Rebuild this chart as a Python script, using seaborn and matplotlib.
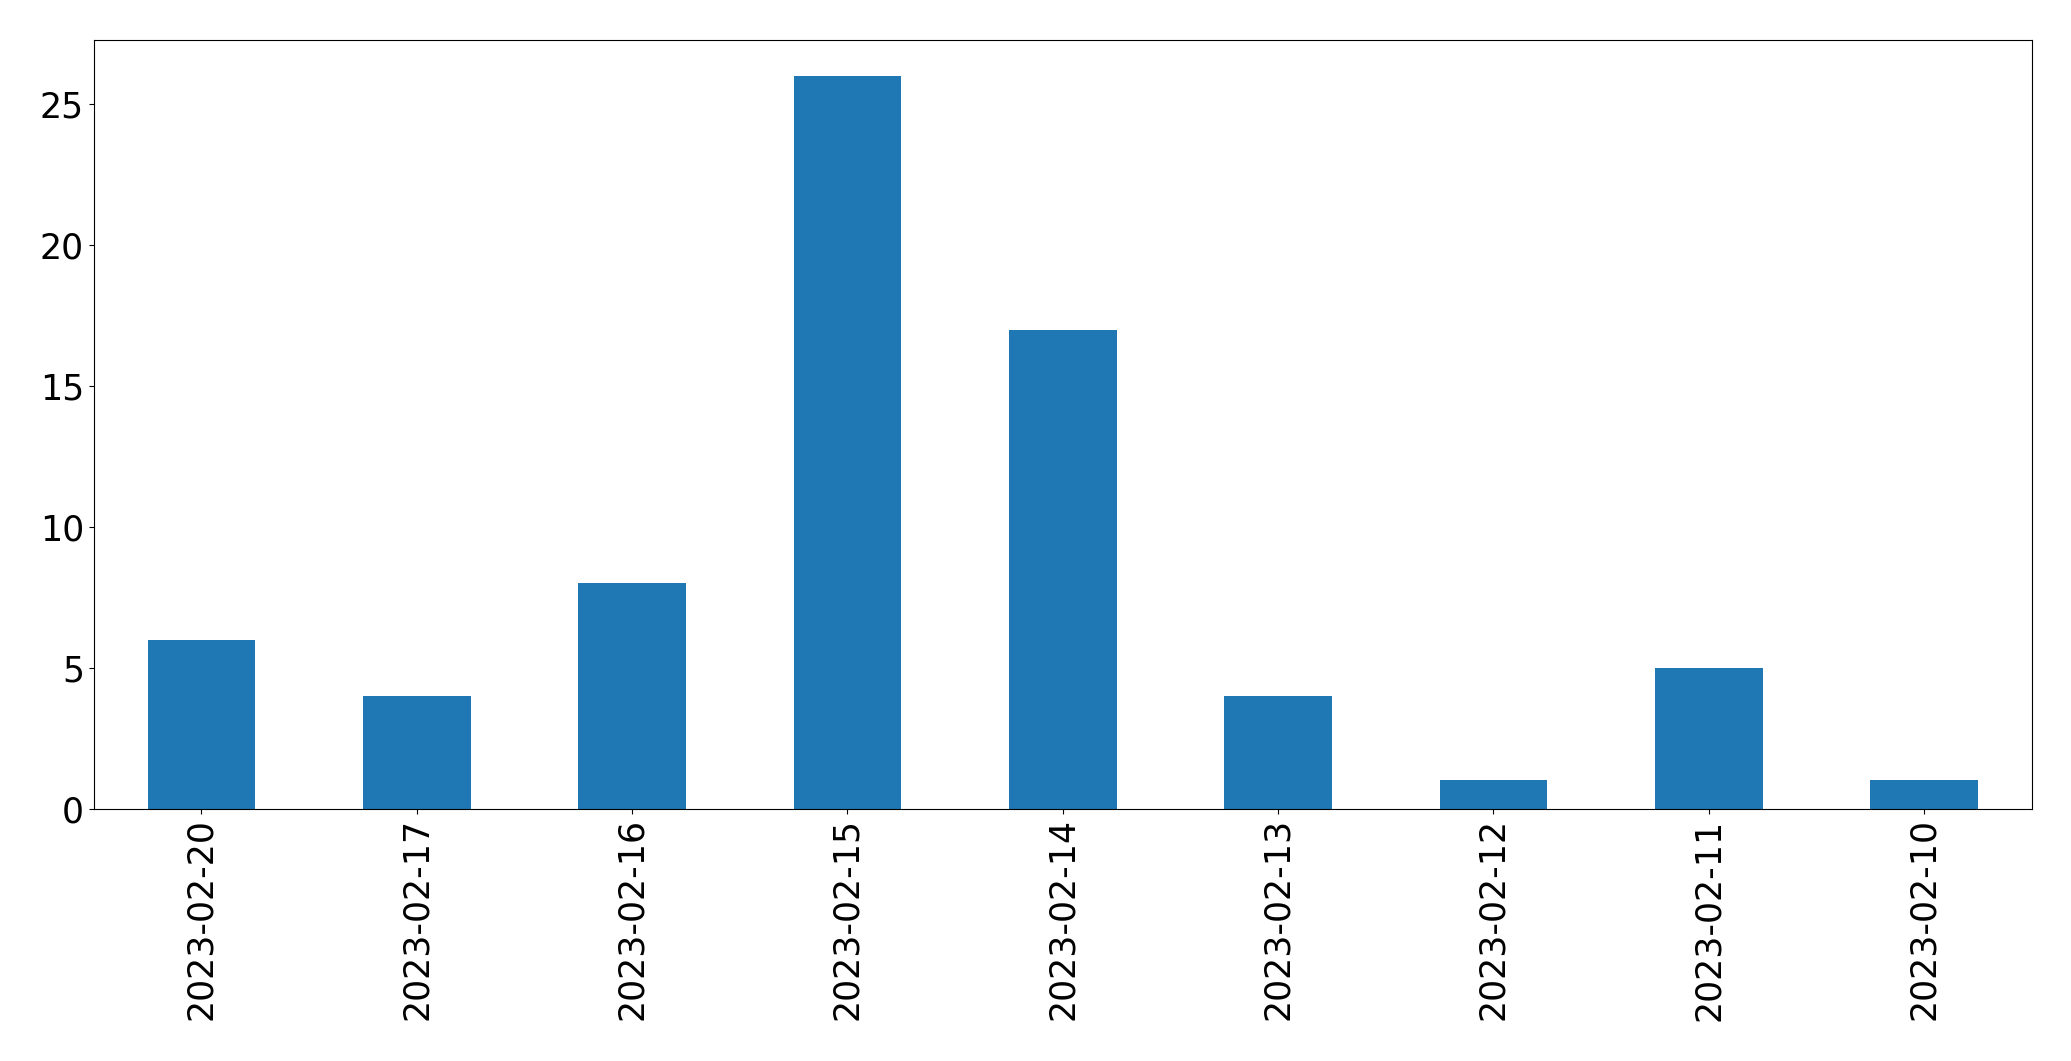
import matplotlib
matplotlib.use("Agg")
import matplotlib.pyplot as plt
import seaborn as sns
import pandas as pd

# Data
dates = ["2023-02-20", "2023-02-17", "2023-02-16", "2023-02-15", "2023-02-14",
         "2023-02-13", "2023-02-12", "2023-02-11", "2023-02-10"]
counts = [6, 4, 8, 26, 17, 4, 1, 5, 1]

df = pd.DataFrame({"date": dates, "count": counts})

fig, ax = plt.subplots(figsize=(20.71, 10.61), dpi=100)
fig.subplots_adjust(left=0.0453, right=0.981, top=0.9627, bottom=0.2379)

sns.barplot(data=df, x="date", y="count", order=dates, color="#1f77b4",
            saturation=1, width=0.5, linewidth=0, ax=ax)

ax.set_xlabel("")
ax.set_ylabel("")
ax.tick_params(axis="both", labelsize=25)
ax.tick_params(axis="x", labelrotation=90)
ax.set_xlim(-0.5, len(dates) - 0.5)

fig.savefig("out.png", dpi=100)
